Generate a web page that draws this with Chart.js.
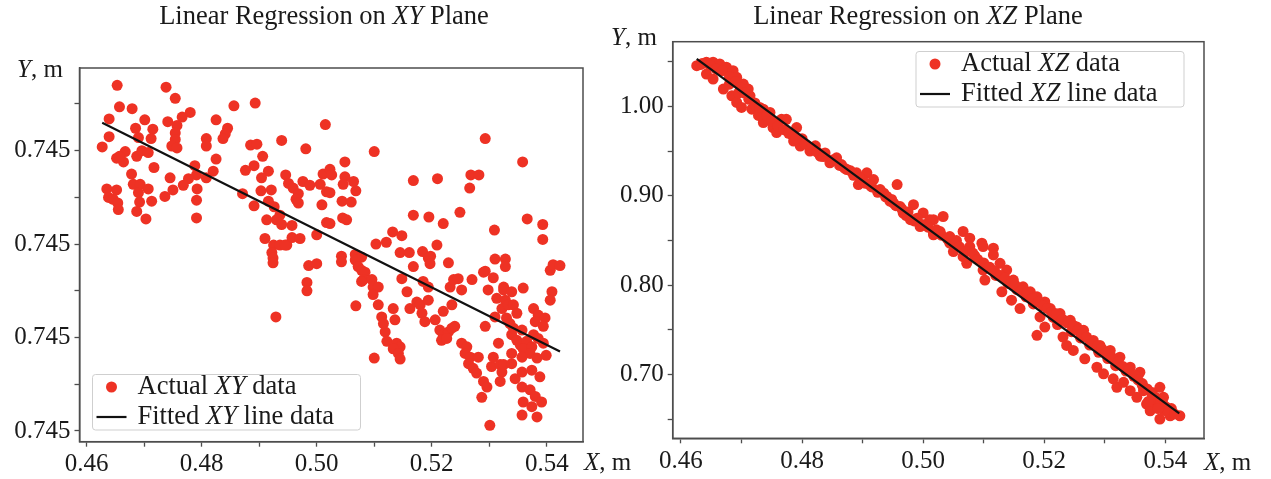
<!DOCTYPE html>
<html>
<head>
<meta charset="utf-8">
<script src="https://cdn.jsdelivr.net/npm/chart.js@4/dist/chart.umd.min.js"></script>
<style>
html, body { margin: 0; padding: 0; background: #fff; }
#wrap { position: relative; width: 1271px; height: 479px; }
canvas { position: absolute; left: 0; top: 0; }
</style>
</head>
<body>
<div id="wrap">
    <canvas id="xyChart" width="1271" height="479"></canvas>
    <canvas id="xzChart" width="1271" height="479"></canvas>
</div>
<script>
// ---- data ----
const xTicks = [0.46, 0.47, 0.48, 0.49, 0.50, 0.51, 0.52, 0.53, 0.54];
const xTickLabels = ['0.46', '', '0.48', '', '0.50', '', '0.52', '', '0.54'];

const xyYTicks = [0.74490, 0.74495, 0.74500, 0.74505, 0.74510, 0.74515, 0.74520, 0.74525];
const xyYTickLabels = ['0.745', '', '0.745', '', '0.745', '', '0.745', ''];

const xzYTicks = [0.65, 0.70, 0.75, 0.80, 0.85, 0.90, 0.95, 1.00, 1.05];
const xzYTickLabels = ['', '0.70', '', '0.80', '', '0.90', '', '1.00', ''];

// Actual XY data
const xyActualX = [
    0.4653, 0.4738, 0.4754, 0.4657, 0.4679, 0.4856, 0.4893, 0.4639, 0.4701, 0.4780,
    0.4766, 0.4741, 0.4757, 0.4825, 0.5015, 0.4685, 0.4715, 0.4845, 0.4841, 0.4837,
    0.4639, 0.4690, 0.4712, 0.4754, 0.4754, 0.4748, 0.4757, 0.4808, 0.4808, 0.4627,
    0.4939, 0.4885, 0.4896, 0.4981, 0.4667, 0.4652, 0.4664, 0.4657, 0.4687, 0.4696,
    0.4707, 0.4788, 0.4825, 0.4906, 0.4891, 0.4876, 0.4717, 0.4916, 0.4904, 0.4820,
    0.4808, 0.4791, 0.4678, 0.4681, 0.4693, 0.4745, 0.4777, 0.4768, 0.4946, 0.4951,
    0.4959, 0.4976, 0.4988, 0.5006, 0.5011, 0.5023, 0.4635, 0.4652, 0.4707, 0.4690,
    0.4750, 0.4792, 0.4903, 0.4921, 0.4968, 0.4964, 0.5017, 0.4638, 0.4646, 0.4654,
    0.4655, 0.4713, 0.4736, 0.4692, 0.4687, 0.4968, 0.4916, 0.4926, 0.4936, 0.5009,
    0.4791, 0.4871, 0.4891, 0.4703, 0.4791, 0.4930, 0.4939, 0.4957, 0.5017, 0.4913,
    0.5000, 0.4910, 0.4957, 0.4971, 0.4925, 0.4936, 0.4948, 0.4922, 0.5100, 0.5293,
    0.5358, 0.5049, 0.5026, 0.5049, 0.5064, 0.5046, 0.5068, 0.5023, 0.5168, 0.5210,
    0.5268, 0.5282, 0.5266, 0.5044, 0.5060, 0.5168, 0.5195, 0.5249, 0.5220, 0.5366,
    0.5393, 0.5045, 0.5052, 0.5023, 0.5309, 0.5393, 0.5132, 0.5148, 0.5103, 0.5121,
    0.5209, 0.5145, 0.5161, 0.5184, 0.5198, 0.5043, 0.5067, 0.5078, 0.5310, 0.5328,
    0.4924, 0.4924, 0.4986, 0.5000, 0.4983, 0.4983, 0.4929, 0.4945, 0.5043, 0.5067,
    0.5072, 0.5078, 0.5084, 0.5081, 0.5096, 0.5078, 0.5098, 0.5107, 0.5098, 0.5068,
    0.5107, 0.5113, 0.5133, 0.5136, 0.5116, 0.5119, 0.5122, 0.5139, 0.5145, 0.5133,
    0.5142, 0.5145, 0.5100, 0.5148, 0.5157, 0.5168, 0.5194, 0.5197, 0.5185, 0.5194,
    0.5162, 0.5174, 0.5180, 0.5183, 0.5194, 0.5188, 0.5206, 0.5229, 0.5232, 0.5238,
    0.5246, 0.5252, 0.5235, 0.5220, 0.5214, 0.5220, 0.5217, 0.5229, 0.5235, 0.5240,
    0.5226, 0.5252, 0.5261, 0.5258, 0.5267, 0.5264, 0.5272, 0.5278, 0.5281, 0.5270,
    0.5293, 0.5298, 0.5293, 0.5290, 0.5287, 0.5296, 0.5301, 0.5304, 0.5307, 0.5328,
    0.5307, 0.5325, 0.5313, 0.5310, 0.5316, 0.5319, 0.5322, 0.5325, 0.5319, 0.5325,
    0.5328, 0.5322, 0.5333, 0.5339, 0.5330, 0.5336, 0.5342, 0.5348, 0.5339, 0.5342,
    0.5359, 0.5357, 0.5348, 0.5354, 0.5365, 0.5359, 0.5374, 0.5371, 0.5339, 0.5339,
    0.5357, 0.5345, 0.5357, 0.5374, 0.5383, 0.5388, 0.5399, 0.5394, 0.5377, 0.5385,
    0.5397, 0.5380, 0.5394, 0.5377, 0.5385, 0.5357, 0.5359, 0.5371, 0.5380, 0.5374,
    0.5391, 0.5357, 0.5383, 0.5406, 0.5411, 0.5423, 0.5409, 0.5406, 0.5290
];
const xyActualY = [
    0.745270, 0.745268, 0.745256, 0.745247, 0.745245, 0.745248, 0.745251, 0.745234, 0.745233, 0.745241,
    0.745236, 0.745231, 0.745227, 0.745233, 0.745228, 0.745224, 0.745223, 0.745224, 0.745218, 0.745213,
    0.745215, 0.745214, 0.745213, 0.745219, 0.745212, 0.745205, 0.745203, 0.745213, 0.745205, 0.745204,
    0.745211, 0.745206, 0.745207, 0.745202, 0.745199, 0.745192, 0.745188, 0.745194, 0.745194, 0.745200,
    0.745198, 0.745184, 0.745191, 0.745194, 0.745184, 0.745179, 0.745182, 0.745178, 0.745171, 0.745178,
    0.745171, 0.745174, 0.745175, 0.745164, 0.745164, 0.745171, 0.745170, 0.745163, 0.745174, 0.745165,
    0.745160, 0.745167, 0.745163, 0.745164, 0.745175, 0.745180, 0.745159, 0.745158, 0.745159, 0.745155,
    0.745158, 0.745159, 0.745157, 0.745158, 0.745154, 0.745148, 0.745156, 0.745150, 0.745148, 0.745144,
    0.745137, 0.745146, 0.745151, 0.745145, 0.745135, 0.745144, 0.745146, 0.745140, 0.745131, 0.745142,
    0.745147, 0.745154, 0.745141, 0.745127, 0.745128, 0.745126, 0.745121, 0.745120, 0.745123, 0.745126,
    0.745110, 0.745106, 0.745107, 0.745106, 0.745099, 0.745099, 0.745099, 0.745091, 0.745199, 0.745213,
    0.745188, 0.745188, 0.745174, 0.745172, 0.745167, 0.745164, 0.745157, 0.745155, 0.745168, 0.745170,
    0.745174, 0.745174, 0.745160, 0.745146, 0.745145, 0.745131, 0.745129, 0.745134, 0.745122, 0.745127,
    0.745121, 0.745128, 0.745126, 0.745122, 0.745115, 0.745105, 0.745113, 0.745109, 0.745100, 0.745102,
    0.745099, 0.745091, 0.745091, 0.745092, 0.745087, 0.745087, 0.745089, 0.745086, 0.745084, 0.745084,
    0.745085, 0.745080, 0.745077, 0.745079, 0.745059, 0.745050, 0.745022, 0.745099, 0.745081, 0.745083,
    0.745076, 0.745072, 0.745070, 0.745062, 0.745062, 0.745060, 0.745054, 0.745054, 0.745046, 0.745034,
    0.745035, 0.745022, 0.745031, 0.745019, 0.745015, 0.745006, 0.744996, 0.744994, 0.744990, 0.744988,
    0.744983, 0.744977, 0.744978, 0.745063, 0.745049, 0.745076, 0.745085, 0.745079, 0.745060, 0.745054,
    0.745031, 0.745038, 0.745035, 0.745026, 0.745040, 0.745017, 0.745019, 0.745080, 0.745054, 0.745062,
    0.745063, 0.745051, 0.745035, 0.745028, 0.745008, 0.745003, 0.744997, 0.745006, 0.745010, 0.745012,
    0.744999, 0.744994, 0.744990, 0.744983, 0.744979, 0.744972, 0.744967, 0.744962, 0.744979, 0.745062,
    0.745071, 0.745051, 0.745012, 0.744953, 0.744936, 0.744947, 0.744906, 0.744969, 0.744979, 0.745076,
    0.745064, 0.745054, 0.745042, 0.745022, 0.744994, 0.744971, 0.744963, 0.744971, 0.744953, 0.745051,
    0.745040, 0.745031, 0.745035, 0.745049, 0.745021, 0.745015, 0.745035, 0.745026, 0.745003, 0.745010,
    0.745053, 0.745008, 0.744997, 0.744992, 0.744996, 0.744988, 0.744990, 0.744983, 0.744983, 0.744972,
    0.744979, 0.744956, 0.744963, 0.744965, 0.744978, 0.744958, 0.744981, 0.744994, 0.745031, 0.745024,
    0.745021, 0.745017, 0.745012, 0.745003, 0.744999, 0.744947, 0.744931, 0.744944, 0.744937, 0.744926,
    0.744931, 0.744917, 0.744915, 0.745072, 0.745078, 0.745077, 0.745049, 0.745040, 0.745070
];
const xyFitX = [0.4627, 0.5423];
const xyFitY = [0.745230, 0.744985];

// Actual XZ data
const xzActualX = [
    0.4626, 0.4642, 0.4653, 0.4664, 0.4675, 0.4686, 0.4692, 0.4703, 0.4711, 0.4714,
    0.4642, 0.4653, 0.4670, 0.4684, 0.4692, 0.4700, 0.4717, 0.4736, 0.4747, 0.4736,
    0.4752, 0.4758, 0.4766, 0.4774, 0.4783, 0.4791, 0.4786, 0.4797, 0.4813, 0.4830,
    0.4846, 0.4857, 0.4874, 0.4890, 0.4893, 0.4907, 0.4918, 0.4929, 0.4940, 0.4957,
    0.4951, 0.4967, 0.4984, 0.4979, 0.5000, 0.4995, 0.5017, 0.5017, 0.5011, 0.5033,
    0.5022, 0.5044, 0.5066, 0.5077, 0.5097, 0.5116, 0.5017, 0.5044, 0.5050, 0.5066,
    0.5077, 0.5099, 0.5116, 0.5072, 0.5099, 0.5102, 0.5127, 0.5138, 0.5130, 0.5146,
    0.5160, 0.5149, 0.5165, 0.5177, 0.5188, 0.5201, 0.5193, 0.5201, 0.5188, 0.5210,
    0.5226, 0.5231, 0.5237, 0.5243, 0.5254, 0.5265, 0.5248, 0.5267, 0.5281, 0.5292,
    0.5309, 0.5287, 0.5298, 0.5314, 0.5325, 0.5320, 0.5331, 0.5342, 0.5358, 0.5342,
    0.5353, 0.5369, 0.5391, 0.5397, 0.5391, 0.5408, 0.5424, 0.5402, 0.5375, 0.5364,
    0.5386, 0.4800, 0.4822, 0.4838, 0.4865, 0.4880, 0.4900, 0.4912, 0.4935, 0.4948,
    0.4962, 0.4975, 0.4990, 0.5005, 0.5028, 0.5055, 0.5085, 0.5110, 0.5120, 0.5140,
    0.5155, 0.5170, 0.5182, 0.5215, 0.5222, 0.5245, 0.5260, 0.5275, 0.5290, 0.5305,
    0.5318, 0.5335, 0.5348, 0.5362, 0.5378, 0.5395, 0.5410, 0.5380, 0.5398, 0.4632,
    0.4660, 0.4680, 0.4695, 0.4722, 0.4728, 0.4745, 0.4635, 0.4648, 0.4658, 0.4668,
    0.4680, 0.4690, 0.4698, 0.4705, 0.4712, 0.4722, 0.4730, 0.4742, 0.4750, 0.4760,
    0.4770, 0.4778, 0.4790, 0.4805, 0.4815, 0.4825, 0.4835, 0.4850, 0.4862, 0.4870,
    0.4885, 0.4895, 0.4905, 0.4915, 0.4925, 0.4938, 0.4945, 0.4955, 0.4965, 0.4972,
    0.4985, 0.4998, 0.5008, 0.5020, 0.5030, 0.5040, 0.5052, 0.5060, 0.5070, 0.5082,
    0.5090, 0.5100, 0.5108, 0.5118, 0.5128, 0.5135, 0.5145, 0.5152, 0.5162, 0.5172,
    0.5180, 0.5190, 0.5198, 0.5205, 0.5212, 0.5220, 0.5230, 0.5238, 0.5248, 0.5256,
    0.5262, 0.5270, 0.5280, 0.5288, 0.5295, 0.5302, 0.5312, 0.5322, 0.5330, 0.5340,
    0.5350, 0.5355, 0.5362, 0.5370, 0.5378, 0.5385, 0.5392, 0.5400, 0.5405, 0.5415,
    0.5388, 0.5372
];
const xzActualZ = [
    1.0457, 1.0495, 1.0495, 1.0476, 1.0439, 1.0400, 1.0326, 1.0251, 1.0195, 1.0119,
    1.0363, 1.0307, 1.0195, 1.0119, 1.0045, 0.9989, 0.9970, 0.9970, 0.9933, 0.9820,
    0.9764, 0.9708, 0.9857, 0.9857, 0.9688, 0.9764, 0.9613, 0.9557, 0.9501, 0.9444,
    0.9370, 0.9426, 0.9295, 0.9258, 0.9126, 0.9258, 0.9182, 0.9070, 0.8994, 0.9126,
    0.8920, 0.8808, 0.8901, 0.8733, 0.8808, 0.8657, 0.8583, 0.8733, 0.8732, 0.8769,
    0.8620, 0.8544, 0.8601, 0.8526, 0.8470, 0.8414, 0.8564, 0.8470, 0.8376, 0.8319,
    0.8432, 0.8432, 0.8339, 0.8245, 0.8170, 0.8057, 0.8245, 0.8170, 0.7926, 0.7832,
    0.7739, 0.8057, 0.7982, 0.7926, 0.7870, 0.7813, 0.7645, 0.7532, 0.7439, 0.7739,
    0.7683, 0.7420, 0.7326, 0.7607, 0.7532, 0.7495, 0.7270, 0.7177, 0.7382, 0.7326,
    0.7270, 0.7082, 0.7008, 0.6952, 0.7195, 0.6857, 0.6913, 0.7082, 0.7026, 0.6820,
    0.6745, 0.6670, 0.6857, 0.6745, 0.6502, 0.6539, 0.6539, 0.6632, 0.6595, 0.6820,
    0.6670, 0.9640, 0.9560, 0.9480, 0.9350, 0.9280, 0.9180, 0.9120, 0.9030, 0.8960,
    0.8880, 0.8820, 0.8750, 0.8680, 0.8600, 0.8500, 0.8330, 0.8200, 0.8110, 0.8020,
    0.7950, 0.7870, 0.7790, 0.7640, 0.7560, 0.7480, 0.7410, 0.7330, 0.7250, 0.7180,
    0.7100, 0.7040, 0.6980, 0.6900, 0.6800, 0.6700, 0.6620, 0.6720, 0.6600, 1.0470,
    1.0440, 1.0250, 1.0150, 1.0040, 0.9900, 0.9850, 1.0480, 1.0460, 1.0420, 1.0400,
    1.0330, 1.0280, 1.0210, 1.0150, 1.0080, 1.0020, 0.9990, 0.9900, 0.9840, 0.9780,
    0.9740, 0.9700, 0.9640, 0.9580, 0.9530, 0.9490, 0.9440, 0.9400, 0.9340, 0.9310,
    0.9230, 0.9200, 0.9140, 0.9100, 0.9040, 0.8990, 0.8940, 0.8890, 0.8850, 0.8780,
    0.8720, 0.8680, 0.8650, 0.8610, 0.8560, 0.8520, 0.8460, 0.8430, 0.8380, 0.8360,
    0.8290, 0.8250, 0.8200, 0.8160, 0.8110, 0.8080, 0.8020, 0.8000, 0.7940, 0.7920,
    0.7850, 0.7810, 0.7770, 0.7740, 0.7700, 0.7680, 0.7620, 0.7580, 0.7550, 0.7500,
    0.7450, 0.7420, 0.7360, 0.7320, 0.7290, 0.7240, 0.7190, 0.7140, 0.7090, 0.7050,
    0.6990, 0.6940, 0.6880, 0.6840, 0.6780, 0.6740, 0.6700, 0.6640, 0.6580, 0.6560,
    0.6620, 0.6700
];
const xzFitX = [0.4626, 0.5423];
const xzFitZ = [1.0532, 0.6565];

// ---- styling ----
const RED = 'rgb(238, 50, 36)';
const AXIS = '#4d4d4d';
const FONT = '"Liberation Serif", "Times New Roman", serif';
const FS = 25;      // tick labels, axis names
const FS_BIG = 26.5; // titles, legend

function pts(xs, ys) { return xs.map((x, i) => ({ x: x, y: ys[i] })); }

// rich text: parts = [[text, italic], ...]
function richText(ctx, parts, x, y, align, size) {
    let w = 0;
    parts.forEach(p => { ctx.font = (p[1] ? 'italic ' : '') + size + 'px ' + FONT; w += ctx.measureText(p[0]).width; });
    let cx = align === 'center' ? x - w / 2 : x;
    ctx.textAlign = 'left';
    ctx.textBaseline = 'middle';
    ctx.fillStyle = '#1a1a1a';
    parts.forEach(p => {
        ctx.font = (p[1] ? 'italic ' : '') + size + 'px ' + FONT;
        ctx.fillText(p[0], cx, y);
        cx += ctx.measureText(p[0]).width;
    });
}

// text layout for each panel (positions only)
const decorCfg = {
    xyChart: {
        title: { parts: [['Linear Regression on ', false], ['XY', true], [' Plane', false]], x: 324, y: 17 },
        yLabel: { parts: [['Y', true], [', m', false]], x: 17, y: 70 },
        xLabel: { parts: [['X', true], [', m', false]], x: 584, y: 463 },
        legend: { x: 92.5, y: 374.5, w: 268, h: 55.5, rows: [
            [['Actual ', false], ['XY', true], [' data', false]],
            [['Fitted ', false], ['XY', true], [' line data', false]]
        ] }
    },
    xzChart: {
        title: { parts: [['Linear Regression on ', false], ['XZ', true], [' Plane', false]], x: 918, y: 17 },
        yLabel: { parts: [['Y', true], [', m', false]], x: 611, y: 38 },
        xLabel: { parts: [['X', true], [', m', false]], x: 1204, y: 463 },
        legend: { x: 916, y: 51.5, w: 268, h: 55.5, rows: [
            [['Actual ', false], ['XZ', true], [' data', false]],
            [['Fitted ', false], ['XZ', true], [' line data', false]]
        ] }
    }
};

const decorPlugin = {
    id: 'decor',
    afterDraw(chart) {
        const cfg = decorCfg[chart.canvas.id];
        const ctx = chart.ctx;
        const a = chart.chartArea;
        ctx.save();
        // full frame round the plot
        ctx.strokeStyle = AXIS;
        ctx.lineWidth = 1.5;
        ctx.strokeRect(a.left, a.top, a.right - a.left, a.bottom - a.top);

        richText(ctx, cfg.title.parts, cfg.title.x, cfg.title.y, 'center', FS_BIG);
        richText(ctx, cfg.yLabel.parts, cfg.yLabel.x, cfg.yLabel.y, 'left', FS);
        richText(ctx, cfg.xLabel.parts, cfg.xLabel.x, cfg.xLabel.y, 'left', FS);

        // legend
        const L = cfg.legend;
        ctx.beginPath();
        ctx.roundRect(L.x, L.y, L.w, L.h, 3);
        ctx.fillStyle = 'rgba(255,255,255,0.8)';
        ctx.fill();
        ctx.strokeStyle = '#cfcfcf';
        ctx.lineWidth = 1;
        ctx.stroke();
        const r1 = L.y + 12.5, r2 = L.y + 42.5;
        ctx.beginPath();
        ctx.arc(L.x + 19, r1, 5.5, 0, Math.PI * 2);
        ctx.fillStyle = RED;
        ctx.fill();
        ctx.beginPath();
        ctx.moveTo(L.x + 4, r2);
        ctx.lineTo(L.x + 34, r2);
        ctx.strokeStyle = '#111';
        ctx.lineWidth = 2.2;
        ctx.stroke();
        richText(ctx, L.rows[0], L.x + 45, r1, 'left', FS_BIG);
        richText(ctx, L.rows[1], L.x + 45, r2, 'left', FS_BIG);
        ctx.restore();
    }
};

function axisX(minV, maxV, h) {
    return {
        type: 'linear', min: minV, max: maxV,
        afterBuildTicks: s => { s.ticks = xTicks.map(v => ({ value: v })); },
        afterFit: s => { s.height = h; },
        ticks: { callback: (v, i) => xTickLabels[i], autoSkip: false, maxRotation: 0, padding: 3,
                 color: '#1a1a1a', font: { family: FONT, size: FS } },
        grid: { drawOnChartArea: false, drawTicks: true, tickLength: 5, tickColor: AXIS, tickWidth: 1.3 },
        border: { display: true, color: AXIS, width: 1.5 }
    };
}
function axisY(minV, maxV, w, tickVals, tickLabels) {
    return {
        type: 'linear', min: minV, max: maxV,
        afterBuildTicks: s => { s.ticks = tickVals.map(v => ({ value: v })); },
        afterFit: s => { s.width = w; },
        ticks: { callback: (v, i) => tickLabels[i], autoSkip: false, padding: 4,
                 color: '#1a1a1a', font: { family: FONT, size: FS } },
        grid: { drawOnChartArea: false, drawTicks: true, tickLength: 5, tickColor: AXIS, tickWidth: 1.3 },
        border: { display: true, color: AXIS, width: 1.5 }
    };
}

function makeChart(id, ax, ay, fx, fy, scales, padding) {
    return new Chart(document.getElementById(id), {
        data: {
            datasets: [
                { type: 'scatter', data: pts(ax, ay), backgroundColor: RED, borderWidth: 0, pointRadius: 5.5, order: 2 },
                { type: 'line', data: pts(fx, fy), borderColor: '#111', borderWidth: 2.2, pointRadius: 0, fill: false, order: 1 }
            ]
        },
        options: {
            responsive: false,
            animation: false,
            layout: { padding: padding },
            plugins: { legend: { display: false }, tooltip: { enabled: false } },
            scales: scales
        },
        plugins: [decorPlugin]
    });
}

makeChart('xyChart', xyActualX, xyActualY, xyFitX, xyFitY,
    { x: axisX(0.45875, 0.5463, 37.3), y: axisY(0.7448885, 0.7452885, 79.5, xyYTicks, xyYTickLabels) },
    { left: 0, top: 68, right: 688, bottom: 0 });

makeChart('xzChart', xzActualX, xzActualZ, xzFitX, xzFitZ,
    { x: axisX(0.45863, 0.54639, 40.7), y: axisY(0.6287, 1.0725, 672.7, xzYTicks, xzYTickLabels) },
    { left: 0, top: 41.7, right: 67, bottom: 0 });
</script>
</body>
</html>
